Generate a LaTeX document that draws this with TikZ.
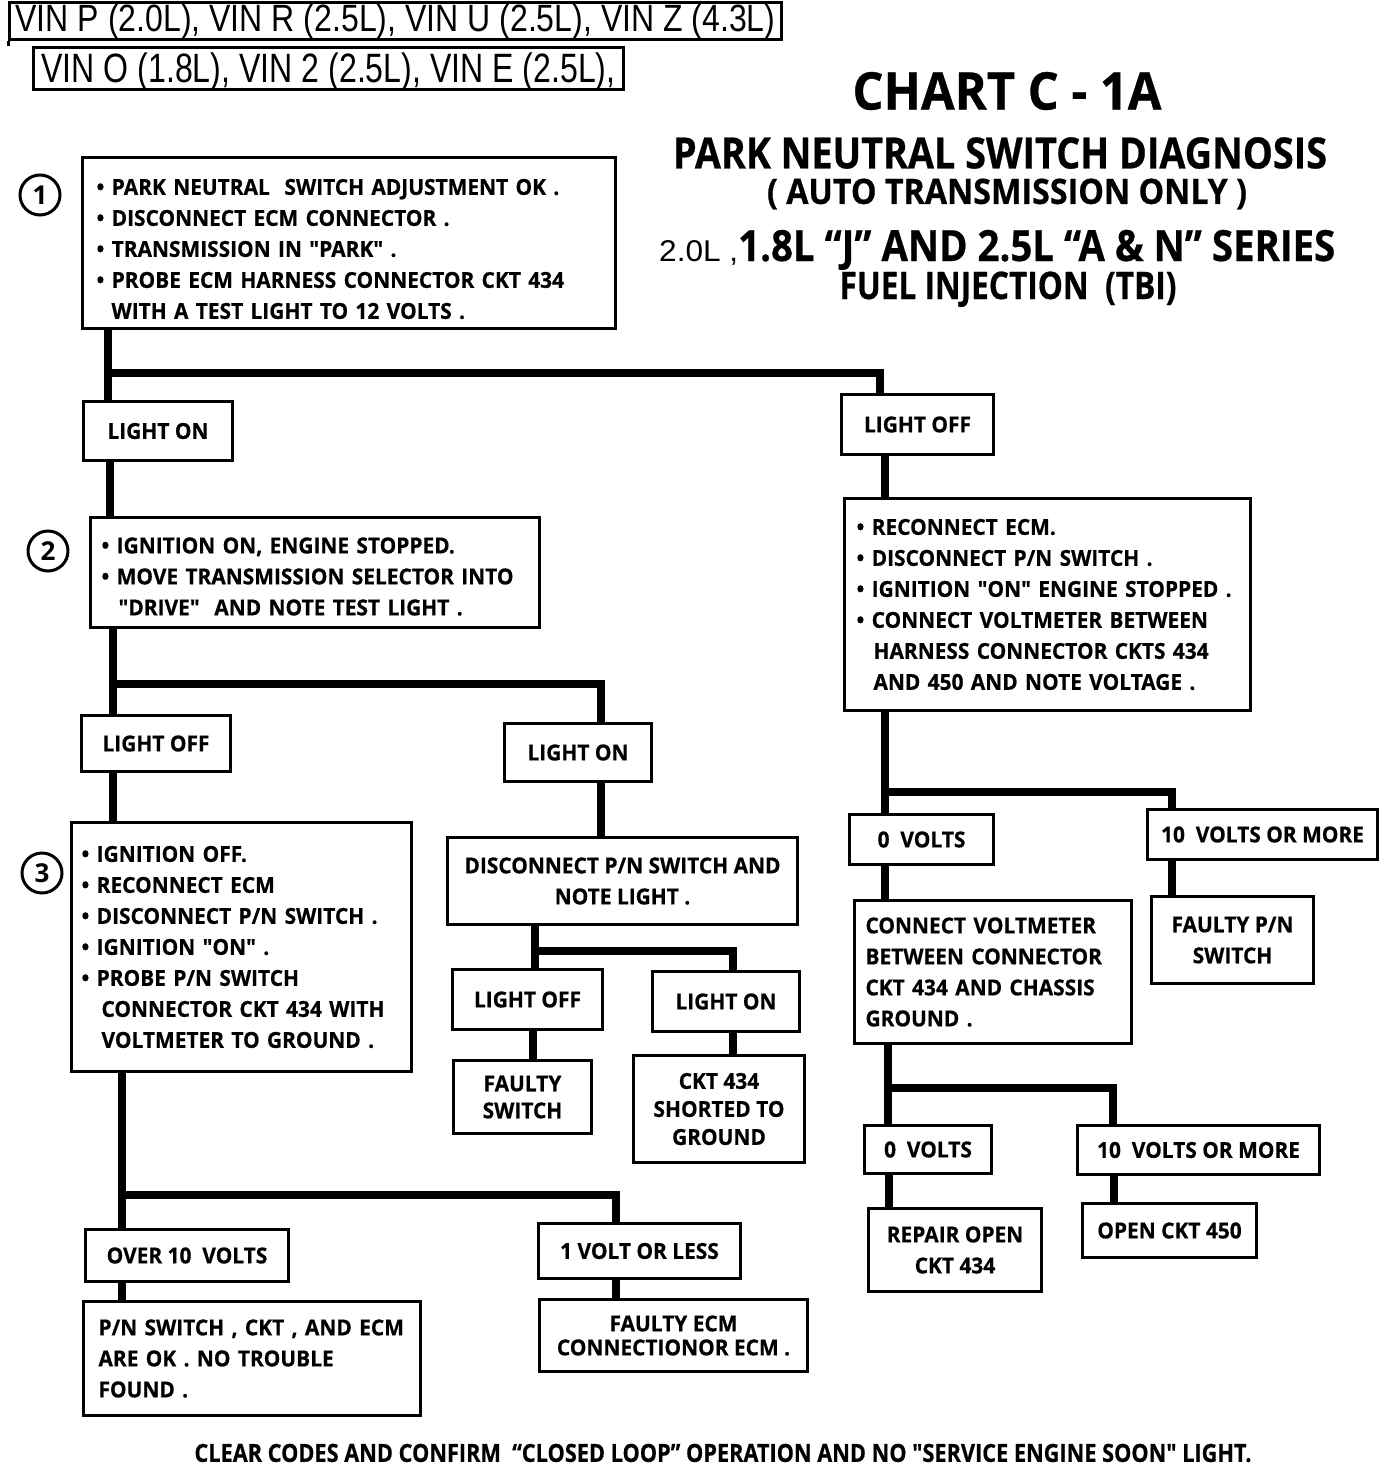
\documentclass[tikz,border=0pt]{standalone}
\usepackage{fontspec}
\usepackage{graphicx}
\newfontfamily\bxf{Open Sans}[FakeStretch=0.95,FakeBold=0.6]
\newfontfamily\ttf{Open Sans}
\newfontfamily\lib{Liberation Sans}
\newcommand\bxfont{\bxf\bfseries\fontsize{22}{31}\selectfont}
\newcommand\Ln[1]{\mbox{#1}}
\begin{document}
\begin{tikzpicture}[x=1pt,y=-1pt,
  conn/.style={line width=8pt},
  bx/.style={draw,line width=3pt,anchor=north west,inner sep=0pt,font=\bxfont},
  lb/.style={bx,align=left},
  cb/.style={bx,align=center},
  hb/.style={draw,line width=3pt,anchor=north west,inner sep=0pt},
  num/.style={circle,draw,line width=3pt,minimum size=40pt,inner sep=0pt,font=\ttf\bfseries\fontsize{26}{26}\selectfont},
  tt/.style={inner sep=0pt}]
\useasboundingbox (0,0) rectangle (1392,1466);

% header
\node[hb,minimum width=772pt,minimum height=37pt,text height=29pt,text depth=8pt] (v1) at (8,1)
  {\resizebox{760pt}{\height}{\lib\fontsize{38}{38}\selectfont VIN P (2.0L), VIN R (2.5L), VIN U (2.5L), VIN Z (4.3L)}};
\draw[line width=3pt] (v1.south west) -- ([yshift=-5pt]v1.south west);
\node[hb,minimum width=590pt,minimum height=42pt,text height=35pt,text depth=7pt] (v2) at (32,46)
  {\resizebox{574pt}{\height}{\lib\fontsize{41}{41}\selectfont VIN O (1.8L), VIN 2 (2.5L), VIN E (2.5L),}};

% titles
\node[tt] (t1) at (1007,91) {\resizebox{309pt}{\height}{\bxf\bfseries\fontsize{52}{52}\selectfont CHART C - 1A}};
\node[tt] (t2) at (1000,153) {\resizebox{654pt}{\height}{\bxf\bfseries\fontsize{43}{43}\selectfont PARK NEUTRAL SWITCH DIAGNOSIS}};
\node[tt] (t3) at (1007,194) {\resizebox{480pt}{\height}{\bxf\bfseries\fontsize{35}{35}\selectfont ( AUTO TRANSMISSION ONLY )}};
\node[tt,anchor=base west] (t4) at (659,261) {\resizebox{79pt}{\height}{\lib\fontsize{30}{30}\selectfont 2.0L ,}\resizebox{597pt}{\height}{\bxf\bfseries\fontsize{43}{43}\selectfont 1.8L “\smash{J}” AND 2.5L “A \& N” SERIES}};
\node[tt,anchor=base] (t5) at (1008,299) {\resizebox{337pt}{\height}{\bxf\bfseries\fontsize{38}{38}\selectfont FUEL INJECTION\ \ (TBI)}};

% step numbers
\node[num] (n1) at (40,195) {1};
\node[num] (n2) at (48,551) {2};
\node[num] (n3) at (42,873) {3};

% boxes
\node[lb,inner xsep=14pt,text width=505pt,minimum height=171pt] (A) at (81,156)
 {\Ln{\rule{0pt}{28pt}• PARK NEUTRAL\ \ SWITCH ADJUSTMENT OK .}\\
  \Ln{• DISCONNECT ECM CONNECTOR .}\\
  \Ln{• TRANSMISSION IN "PARK" .}\\
  \Ln{• PROBE ECM HARNESS CONNECTOR CKT 434}\\
  \Ln{\hspace*{15pt}WITH A TEST LIGHT TO 12 VOLTS .}};
\node[cb,minimum width=149pt,minimum height=59pt] (B1) at (82,400) {LIGHT ON};
\node[cb,minimum width=152pt,minimum height=60pt] (B2) at (840,393) {LIGHT OFF};
\node[lb,inner xsep=11pt,text width=427pt,minimum height=110pt] (C) at (89,516)
 {\Ln{\rule{0pt}{24pt}• IGNITION ON, ENGINE STOPPED.}\\
  \Ln{• MOVE TRANSMISSION SELECTOR INTO}\\
  \Ln{\hspace*{17pt}"DRIVE"\ \ AND NOTE TEST LIGHT .}};
\node[cb,minimum width=149pt,minimum height=56pt] (D1) at (80,714) {LIGHT OFF};
\node[cb,minimum width=147pt,minimum height=58pt] (D2) at (503,722) {LIGHT ON};
\node[lb,inner xsep=10pt,text width=320pt,minimum height=249pt] (E) at (70,821)
 {\Ln{• IGNITION OFF.}\\
  \Ln{• RECONNECT ECM}\\
  \Ln{• DISCONNECT P/N SWITCH .}\\
  \Ln{• IGNITION "ON" .}\\
  \Ln{• PROBE P/N SWITCH}\\
  \Ln{\hspace*{20pt}CONNECTOR CKT 434 WITH}\\
  \Ln{\hspace*{20pt}VOLTMETER TO GROUND .}};
\node[cb,minimum width=350pt,minimum height=87pt] (F) at (446,836)
 {DISCONNECT P/N SWITCH AND\\NOTE LIGHT .};
\node[cb,minimum width=150pt,minimum height=60pt] (G1) at (451,968) {LIGHT OFF};
\node[cb,minimum width=147pt,minimum height=60pt] (G2) at (651,970) {LIGHT ON};
\node[cb,minimum width=138pt,minimum height=73pt] (H1) at (452,1059) {FAULTY\\[-4pt]SWITCH};
\node[cb,minimum width=171pt,minimum height=107pt] (H2) at (632,1054) {CKT 434\\[-3pt]SHORTED TO\\[-3pt]GROUND};
\node[cb,minimum width=203pt,minimum height=52pt] (I1) at (84,1228) {OVER 10\ \ VOLTS};
\node[cb,minimum width=202pt,minimum height=55pt] (I2) at (537,1222) {1 VOLT OR LESS};
\node[lb,inner xsep=15pt,text width=307pt,minimum height=114pt] (J1) at (82,1300)
 {\Ln{P/N SWITCH , CKT , AND ECM}\\
  \Ln{ARE OK . NO TROUBLE}\\
  \Ln{FOUND .}};
\node[cb,minimum width=268pt,minimum height=72pt] (J2) at (538,1298) {FAULTY ECM\\[-7pt]CONNECTIONOR ECM .};
\node[lb,inner xsep=12pt,text width=382pt,minimum height=212pt] (K) at (843,497)
 {\Ln{• RECONNECT ECM.}\\
  \Ln{• DISCONNECT P/N SWITCH .}\\
  \Ln{• IGNITION "ON" ENGINE STOPPED .}\\
  \Ln{• CONNECT VOLTMETER BETWEEN}\\
  \Ln{\hspace*{17pt}HARNESS CONNECTOR CKTS 434}\\
  \Ln{\hspace*{17pt}AND 450 AND NOTE VOLTAGE .}};
\node[cb,minimum width=144pt,minimum height=50pt] (L1) at (848,813) {0\ \ VOLTS};
\node[cb,minimum width=230pt,minimum height=50pt] (L2) at (1146,808) {10\ \ VOLTS OR MORE};
\node[cb,minimum width=162pt,minimum height=87pt] (M2) at (1150,895) {FAULTY P/N\\SWITCH};
\node[lb,inner xsep=11pt,text width=255pt,minimum height=143pt] (N) at (853,899)
 {\Ln{CONNECT VOLTMETER}\\
  \Ln{BETWEEN CONNECTOR}\\
  \Ln{CKT 434 AND CHASSIS}\\
  \Ln{GROUND .}};
\node[cb,minimum width=127pt,minimum height=48pt] (O1) at (863,1124) {0\ \ VOLTS};
\node[cb,minimum width=242pt,minimum height=49pt] (O2) at (1076,1124) {10\ \ VOLTS OR MORE};
\node[cb,minimum width=173pt,minimum height=83pt] (P1) at (867,1207) {REPAIR OPEN\\CKT 434};
\node[cb,minimum width=174pt,minimum height=54pt] (P2) at (1081,1202) {OPEN CKT 450};

% footer
\node[tt] (foot) at (723,1453) {\resizebox{1057pt}{\height}{\bxf\bfseries\fontsize{25}{25}\selectfont CLEAR CODES AND CONFIRM\ \ “CLOSED LOOP” OPERATION AND NO "SERVICE ENGINE SOON" LIGHT.}};

% connectors
\draw[conn] ([xshift=27pt]A.south west) -- ([xshift=26pt]B1.north west);
\draw[conn] ([xshift=27pt,yshift=-43pt]A.south west) -| ([xshift=40pt]B2.north west);
\draw[conn] ([xshift=28pt]B1.south west) -- ([xshift=21pt]C.north west);
\draw[conn] ([xshift=24pt]C.south west) -- ([xshift=33pt]D1.north west);
\draw[conn] ([xshift=24pt,yshift=-55pt]C.south west) -| ([xshift=98pt]D2.north west);
\draw[conn] ([xshift=33pt]D1.south west) -- ([xshift=43pt]E.north west);
\draw[conn] ([xshift=98pt]D2.south west) -- ([xshift=155pt]F.north west);
\draw[conn] ([xshift=89pt]F.south west) -- ([xshift=84pt]G1.north west);
\draw[conn] ([xshift=89pt,yshift=-25pt]F.south west) -| ([xshift=82pt]G2.north west);
\draw[conn] ([xshift=82pt]G1.south west) -- ([xshift=81pt]H1.north west);
\draw[conn] ([xshift=82pt]G2.south west) -- ([xshift=101pt]H2.north west);
\draw[conn] ([xshift=52pt]E.south west) -- ([xshift=38pt]I1.north west);
\draw[conn] ([xshift=52pt,yshift=-122pt]E.south west) -| ([xshift=79pt]I2.north west);
\draw[conn] ([xshift=38pt]I1.south west) -- ([xshift=40pt]J1.north west);
\draw[conn] ([xshift=79pt]I2.south west) -- ([xshift=78pt]J2.north west);
\draw[conn] ([xshift=45pt]B2.south west) -- ([xshift=42pt]K.north west);
\draw[conn] ([xshift=42pt]K.south west) -- ([xshift=37pt]L1.north west);
\draw[conn] ([xshift=42pt,yshift=-80pt]K.south west) -| ([xshift=26pt]L2.north west);
\draw[conn] ([xshift=26pt]L2.south west) -- ([xshift=22pt]M2.north west);
\draw[conn] ([xshift=37pt]L1.south west) -- ([xshift=32pt]N.north west);
\draw[conn] ([xshift=35pt]N.south west) -- ([xshift=25pt]O1.north west);
\draw[conn] ([xshift=35pt,yshift=-43pt]N.south west) -| ([xshift=37pt]O2.north west);
\draw[conn] ([xshift=26pt]O1.south west) -- ([xshift=22pt]P1.north west);
\draw[conn] ([xshift=38pt]O2.south west) -- ([xshift=33pt]P2.north west);
\end{tikzpicture}
\end{document}
